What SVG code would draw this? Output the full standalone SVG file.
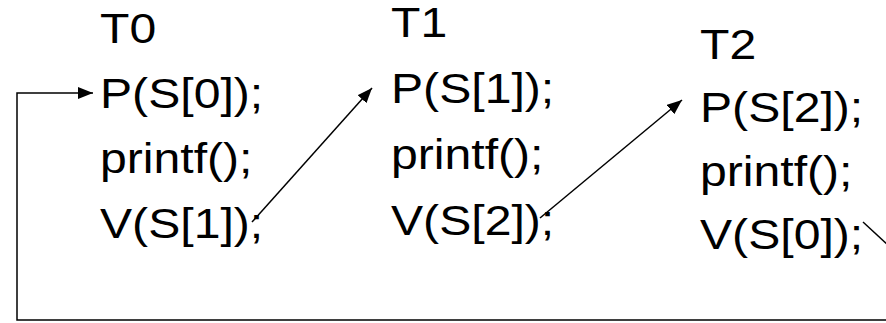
<svg xmlns="http://www.w3.org/2000/svg" width="886" height="323" viewBox="0 0 886 323">
  <style>
    text { font-family: "Liberation Sans", Arial, sans-serif; font-size: 43px; fill: #000; }
    .conn { stroke: #000; stroke-width: 1.5; fill: none; }
  </style>
  <defs>
    <marker id="ah" markerUnits="userSpaceOnUse" markerWidth="16" markerHeight="12" refX="15" refY="6" orient="auto">
      <path d="M0,0 L15,6 L0,12 z" fill="#000"/>
    </marker>
  </defs>
  <rect width="886" height="323" fill="#fff"/>
  <g id="T0" transform="translate(100,0) scale(1.12,1)">
    <text x="0" y="43">T0</text>
    <text x="0" y="108">P(S[0]);</text>
    <text x="0" y="173">printf();</text>
    <text x="0" y="238">V(S[1]);</text>
  </g>
  <g id="T1" transform="translate(391,0) scale(1.12,1)">
    <text x="0" y="37">T1</text>
    <text x="0" y="103">P(S[1]);</text>
    <text x="0" y="169">printf();</text>
    <text x="0" y="235">V(S[2]);</text>
  </g>
  <g id="T2" transform="translate(700,0) scale(1.12,1)">
    <text x="0" y="59">T2</text>
    <text x="0" y="122">P(S[2]);</text>
    <text x="0" y="186">printf();</text>
    <text x="0" y="249">V(S[0]);</text>
  </g>
  <g id="connectors">
    <line class="conn" x1="252" y1="222" x2="372" y2="88" marker-end="url(#ah)"/>
    <line class="conn" x1="540" y1="218" x2="682" y2="100" marker-end="url(#ah)"/>
    <line class="conn" x1="863" y1="222" x2="888" y2="245"/>
    <polyline class="conn" points="886,320 17,320 17,93 93,93" stroke-width="2" marker-end="url(#ah)"/>
  </g>
</svg>
